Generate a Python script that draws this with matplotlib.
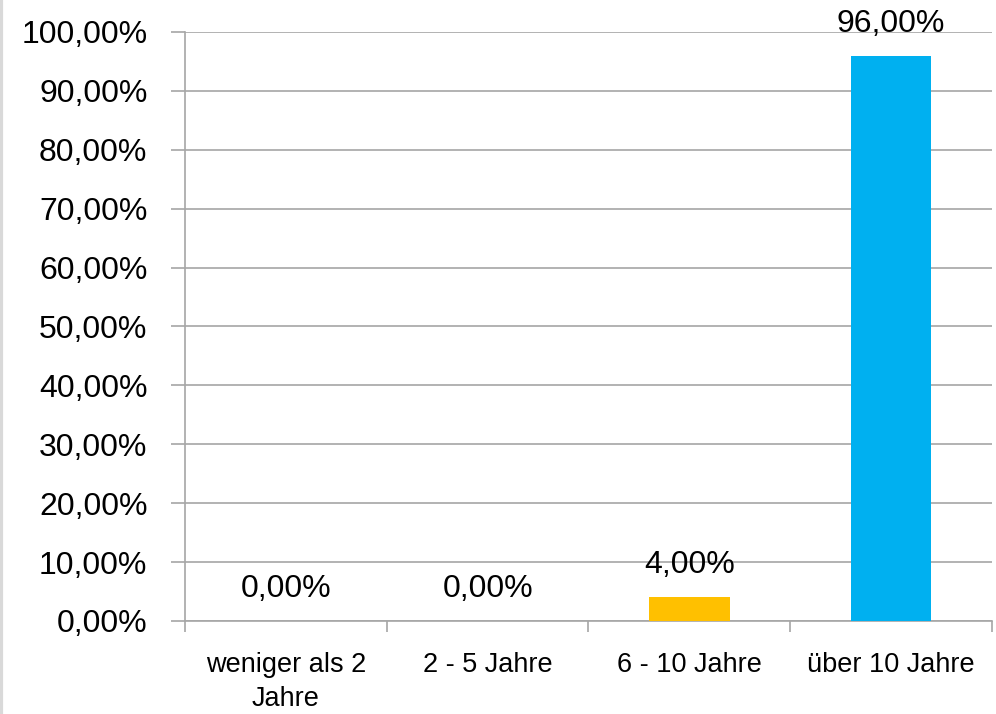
import matplotlib.pyplot as plt
from matplotlib.lines import Line2D
from matplotlib.ticker import FixedLocator, FuncFormatter

CATEGORIES = ['weniger als 2\nJahre', '2 - 5 Jahre', '6 - 10 Jahre', 'über 10 Jahre']
VALUES = [0.0, 0.0, 4.0, 96.0]
COLORS = ['#4472C4', '#ED7D31', '#FFC000', '#00B0F0']

FONT = 'Liberation Sans'
GRID_COLOR = '#a6a6a6'

fig = plt.figure(figsize=(9.96, 7.14), dpi=100)
ax = fig.add_axes([0.1857, 0.1303, 0.8103, 0.8249])

x = range(len(CATEGORIES))
ax.bar(x, VALUES, width=0.4, color=COLORS, zorder=3)

ax.set_xlim(-0.5, len(CATEGORIES) - 0.5)
ax.set_ylim(0, 100)
ax.set_yticks(range(0, 101, 10))
ax.yaxis.set_major_formatter(FuncFormatter(lambda v, p: f'{v:.2f}%'.replace('.', ',')))
ax.grid(axis='y', color=GRID_COLOR, linewidth=1.2, zorder=0)

ax.set_xticks(list(x))
ax.set_xticklabels(CATEGORIES, fontfamily=FONT, fontsize=19.5, linespacing=1.4)
ax.tick_params(axis='x', which='major', length=0, pad=22)
ax.xaxis.set_minor_locator(FixedLocator([i - 0.5 for i in range(len(CATEGORIES) + 1)]))
ax.tick_params(axis='x', which='minor', length=8, width=1.2, color=GRID_COLOR, direction='out')
ax.tick_params(axis='y', length=10, width=1.2, color=GRID_COLOR, pad=17)
for lbl in ax.get_yticklabels():
    lbl.set_fontfamily(FONT)
    lbl.set_fontsize(23)

for side in ['top', 'right']:
    ax.spines[side].set_visible(False)
for side in ['left', 'bottom']:
    ax.spines[side].set_color(GRID_COLOR)
    ax.spines[side].set_linewidth(1.2)

for i, v in enumerate(VALUES):
    ax.annotate(f'{v:.2f}%'.replace('.', ','), (i, v), xytext=(0, 23),
                textcoords='offset points', ha='center', va='center',
                fontfamily=FONT, fontsize=23, annotation_clip=False)

fig.add_artist(Line2D([0.0015, 0.0015], [0, 1], transform=fig.transFigure,
                      color='#d9d9d9', linewidth=3))

fig.savefig('out.png', dpi=100)
